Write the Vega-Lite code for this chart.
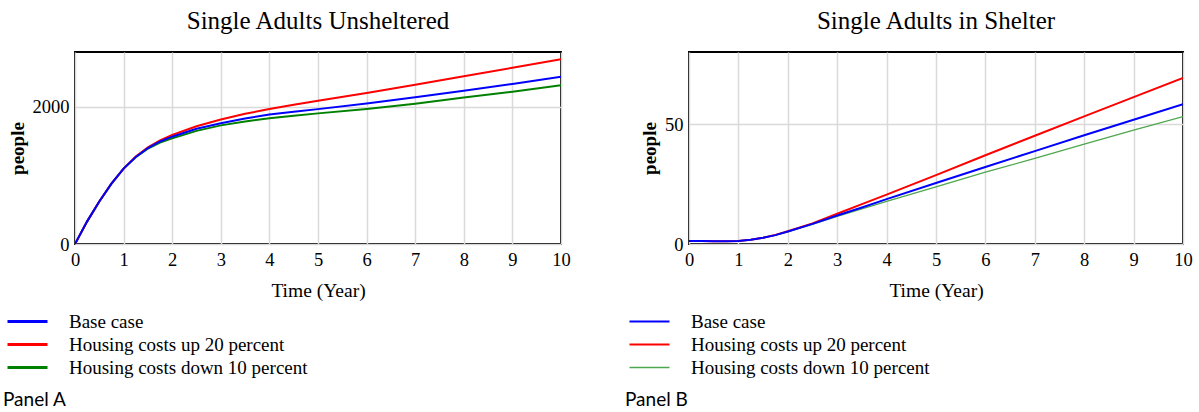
{
  "$schema": "https://vega.github.io/schema/vega-lite/v6.json",
  "autosize": {"type": "pad"},
  "padding": {"left": 2, "top": 8, "right": 5, "bottom": 0},
  "background": "white",
  "spacing": 128,
  "bounds": "flush",
  "datasets": {
    "a": [
      {"t": 0, "s": "Housing costs down 10 percent", "v": 0},
      {"t": 0.25, "s": "Housing costs down 10 percent", "v": 330},
      {"t": 0.5, "s": "Housing costs down 10 percent", "v": 620},
      {"t": 0.75, "s": "Housing costs down 10 percent", "v": 880},
      {"t": 1, "s": "Housing costs down 10 percent", "v": 1100},
      {"t": 1.25, "s": "Housing costs down 10 percent", "v": 1265},
      {"t": 1.5, "s": "Housing costs down 10 percent", "v": 1390},
      {"t": 1.75, "s": "Housing costs down 10 percent", "v": 1480},
      {"t": 2, "s": "Housing costs down 10 percent", "v": 1540},
      {"t": 2.5, "s": "Housing costs down 10 percent", "v": 1650},
      {"t": 3, "s": "Housing costs down 10 percent", "v": 1730},
      {"t": 3.5, "s": "Housing costs down 10 percent", "v": 1785},
      {"t": 4, "s": "Housing costs down 10 percent", "v": 1835},
      {"t": 4.5, "s": "Housing costs down 10 percent", "v": 1870},
      {"t": 5, "s": "Housing costs down 10 percent", "v": 1905},
      {"t": 6, "s": "Housing costs down 10 percent", "v": 1970},
      {"t": 7, "s": "Housing costs down 10 percent", "v": 2045},
      {"t": 8, "s": "Housing costs down 10 percent", "v": 2135},
      {"t": 9, "s": "Housing costs down 10 percent", "v": 2222},
      {"t": 10, "s": "Housing costs down 10 percent", "v": 2314},
      {"t": 0, "s": "Housing costs up 20 percent", "v": 0},
      {"t": 0.25, "s": "Housing costs up 20 percent", "v": 330},
      {"t": 0.5, "s": "Housing costs up 20 percent", "v": 620},
      {"t": 0.75, "s": "Housing costs up 20 percent", "v": 880},
      {"t": 1, "s": "Housing costs up 20 percent", "v": 1100},
      {"t": 1.25, "s": "Housing costs up 20 percent", "v": 1275},
      {"t": 1.5, "s": "Housing costs up 20 percent", "v": 1410},
      {"t": 1.75, "s": "Housing costs up 20 percent", "v": 1510},
      {"t": 2, "s": "Housing costs up 20 percent", "v": 1590},
      {"t": 2.5, "s": "Housing costs up 20 percent", "v": 1718},
      {"t": 3, "s": "Housing costs up 20 percent", "v": 1815},
      {"t": 3.5, "s": "Housing costs up 20 percent", "v": 1898},
      {"t": 4, "s": "Housing costs up 20 percent", "v": 1968},
      {"t": 4.5, "s": "Housing costs up 20 percent", "v": 2030},
      {"t": 5, "s": "Housing costs up 20 percent", "v": 2088},
      {"t": 6, "s": "Housing costs up 20 percent", "v": 2203},
      {"t": 7, "s": "Housing costs up 20 percent", "v": 2324},
      {"t": 8, "s": "Housing costs up 20 percent", "v": 2445},
      {"t": 9, "s": "Housing costs up 20 percent", "v": 2570},
      {"t": 10, "s": "Housing costs up 20 percent", "v": 2696},
      {"t": 0, "s": "Base case", "v": 0},
      {"t": 0.25, "s": "Base case", "v": 330},
      {"t": 0.5, "s": "Base case", "v": 620},
      {"t": 0.75, "s": "Base case", "v": 880},
      {"t": 1, "s": "Base case", "v": 1100},
      {"t": 1.25, "s": "Base case", "v": 1270},
      {"t": 1.5, "s": "Base case", "v": 1400},
      {"t": 1.75, "s": "Base case", "v": 1495},
      {"t": 2, "s": "Base case", "v": 1565},
      {"t": 2.5, "s": "Base case", "v": 1680},
      {"t": 3, "s": "Base case", "v": 1760},
      {"t": 3.5, "s": "Base case", "v": 1830},
      {"t": 4, "s": "Base case", "v": 1888},
      {"t": 4.5, "s": "Base case", "v": 1930},
      {"t": 5, "s": "Base case", "v": 1967},
      {"t": 6, "s": "Base case", "v": 2050},
      {"t": 7, "s": "Base case", "v": 2140},
      {"t": 8, "s": "Base case", "v": 2235},
      {"t": 9, "s": "Base case", "v": 2335},
      {"t": 10, "s": "Base case", "v": 2440}
    ],
    "b": [
      {"t": 0, "s": "Housing costs down 10 percent", "v": 1.3},
      {"t": 0.25, "s": "Housing costs down 10 percent", "v": 1.2},
      {"t": 0.5, "s": "Housing costs down 10 percent", "v": 1.1},
      {"t": 0.75, "s": "Housing costs down 10 percent", "v": 1.1},
      {"t": 1, "s": "Housing costs down 10 percent", "v": 1.3},
      {"t": 1.25, "s": "Housing costs down 10 percent", "v": 1.8},
      {"t": 1.5, "s": "Housing costs down 10 percent", "v": 2.6},
      {"t": 1.75, "s": "Housing costs down 10 percent", "v": 3.7},
      {"t": 2, "s": "Housing costs down 10 percent", "v": 5.1},
      {"t": 2.5, "s": "Housing costs down 10 percent", "v": 8.2},
      {"t": 3, "s": "Housing costs down 10 percent", "v": 11.5},
      {"t": 3.5, "s": "Housing costs down 10 percent", "v": 14.6},
      {"t": 4, "s": "Housing costs down 10 percent", "v": 17.8},
      {"t": 5, "s": "Housing costs down 10 percent", "v": 23.8},
      {"t": 6, "s": "Housing costs down 10 percent", "v": 29.9},
      {"t": 7, "s": "Housing costs down 10 percent", "v": 35.7},
      {"t": 8, "s": "Housing costs down 10 percent", "v": 41.6},
      {"t": 9, "s": "Housing costs down 10 percent", "v": 47.4},
      {"t": 10, "s": "Housing costs down 10 percent", "v": 53.1},
      {"t": 0, "s": "Housing costs up 20 percent", "v": 1.3},
      {"t": 0.25, "s": "Housing costs up 20 percent", "v": 1.2},
      {"t": 0.5, "s": "Housing costs up 20 percent", "v": 1.1},
      {"t": 0.75, "s": "Housing costs up 20 percent", "v": 1.1},
      {"t": 1, "s": "Housing costs up 20 percent", "v": 1.3},
      {"t": 1.25, "s": "Housing costs up 20 percent", "v": 1.8},
      {"t": 1.5, "s": "Housing costs up 20 percent", "v": 2.6},
      {"t": 1.75, "s": "Housing costs up 20 percent", "v": 3.8},
      {"t": 2, "s": "Housing costs up 20 percent", "v": 5.3},
      {"t": 2.5, "s": "Housing costs up 20 percent", "v": 8.6},
      {"t": 3, "s": "Housing costs up 20 percent", "v": 12.6},
      {"t": 3.5, "s": "Housing costs up 20 percent", "v": 16.6},
      {"t": 4, "s": "Housing costs up 20 percent", "v": 20.6},
      {"t": 5, "s": "Housing costs up 20 percent", "v": 28.7},
      {"t": 6, "s": "Housing costs up 20 percent", "v": 37.0},
      {"t": 7, "s": "Housing costs up 20 percent", "v": 45.1},
      {"t": 8, "s": "Housing costs up 20 percent", "v": 53.2},
      {"t": 9, "s": "Housing costs up 20 percent", "v": 61.2},
      {"t": 10, "s": "Housing costs up 20 percent", "v": 69.2},
      {"t": 0, "s": "Base case", "v": 1.3},
      {"t": 0.25, "s": "Base case", "v": 1.2},
      {"t": 0.5, "s": "Base case", "v": 1.1},
      {"t": 0.75, "s": "Base case", "v": 1.1},
      {"t": 1, "s": "Base case", "v": 1.3},
      {"t": 1.25, "s": "Base case", "v": 1.8},
      {"t": 1.5, "s": "Base case", "v": 2.6},
      {"t": 1.75, "s": "Base case", "v": 3.7},
      {"t": 2, "s": "Base case", "v": 5.2},
      {"t": 2.5, "s": "Base case", "v": 8.4},
      {"t": 3, "s": "Base case", "v": 11.9},
      {"t": 3.5, "s": "Base case", "v": 15.2},
      {"t": 4, "s": "Base case", "v": 18.7},
      {"t": 5, "s": "Base case", "v": 25.4},
      {"t": 6, "s": "Base case", "v": 32.1},
      {"t": 7, "s": "Base case", "v": 38.7},
      {"t": 8, "s": "Base case", "v": 45.3},
      {"t": 9, "s": "Base case", "v": 51.8},
      {"t": 10, "s": "Base case", "v": 58.3}
    ]
  },
  "config": {
    "font": "Liberation Serif",
    "view": {"stroke": "black", "strokeWidth": 2},
    "axis": {
      "labelFont": "Liberation Serif", "labelFontSize": 18.5, "labelColor": "black",
      "titleFont": "Liberation Serif", "titleFontSize": 19.5, "titleColor": "black", "titleFontWeight": "normal",
      "domain": false, "ticks": false, "gridColor": "#d9d9d9", "gridWidth": 1.5, "labelPadding": 6, "labelFlush": false, "format": "d"
    },
    "title": {"font": "Liberation Serif", "fontSize": 25, "fontWeight": "normal", "color": "black", "anchor": "middle", "baseline": "alphabetic", "offset": 18},
    "legend": {
      "orient": "none", "direction": "vertical", "padding": 0,
      "titleOrient": "bottom", "titleAnchor": "start", "titleFont": "Lato", "titleFontSize": 19, "titleFontWeight": "normal", "titleColor": "black", "titlePadding": 13,
      "symbolType": "M-1,0H7", "symbolSize": 100, "symbolStrokeWidth": 3, "labelOffset": 47,
      "labelFont": "Liberation Serif", "labelFontSize": 19, "labelColor": "black", "rowPadding": 3, "labelLimit": 400
    }
  },
  "hconcat": [
    {
      "width": 486, "height": 192,
      "title": "Single Adults Unsheltered",
      "data": {"name": "a"},
      "mark": {"type": "line", "strokeWidth": 2, "clip": true},
      "encoding": {
        "x": {"field": "t", "type": "quantitative", "scale": {"domain": [0, 10], "nice": false},
              "axis": {"values": [0,1,2,3,4,5,6,7,8,9,10], "title": "Time (Year)", "titlePadding": 13}},
        "y": {"field": "v", "type": "quantitative", "scale": {"domain": [0, 2800], "nice": false},
              "axis": {"values": [0, 2000], "title": "people", "titleFontWeight": "bold", "titleFontSize": 19, "titlePadding": 5}},
        "color": {"field": "s", "type": "nominal",
                  "scale": {"domain": ["Base case", "Housing costs up 20 percent", "Housing costs down 10 percent"], "range": ["#0000ff", "#ff0000", "#008000"]},
                  "legend": {"title": "Panel A", "legendX": -72, "legendY": 260}}
      }
    },
    {
      "width": 494, "height": 192,
      "title": "Single Adults in Shelter",
      "data": {"name": "b"},
      "mark": {"type": "line", "clip": true},
      "encoding": {
        "x": {"field": "t", "type": "quantitative", "scale": {"domain": [0, 10], "nice": false},
              "axis": {"values": [0,1,2,3,4,5,6,7,8,9,10], "title": "Time (Year)", "titlePadding": 13}},
        "y": {"field": "v", "type": "quantitative", "scale": {"domain": [0, 80], "nice": false},
              "axis": {"values": [0, 50], "title": "people", "titleFontWeight": "bold", "titleFontSize": 19, "titlePadding": 5}},
        "color": {"field": "s", "type": "nominal",
                  "scale": {"domain": ["Base case", "Housing costs up 20 percent", "Housing costs down 10 percent"], "range": ["#0000ff", "#ff0000", "#4ea64e"]},
                  "legend": {"title": "Panel B", "legendX": -64, "legendY": 260}},
        "strokeWidth": {"field": "s", "type": "nominal",
                  "scale": {"type": "ordinal", "domain": ["Base case", "Housing costs up 20 percent", "Housing costs down 10 percent"], "range": [2, 2, 1.3]},
                  "legend": null}
      }
    }
  ],
  "resolve": {"scale": {"color": "independent", "strokeWidth": "independent"}}
}
